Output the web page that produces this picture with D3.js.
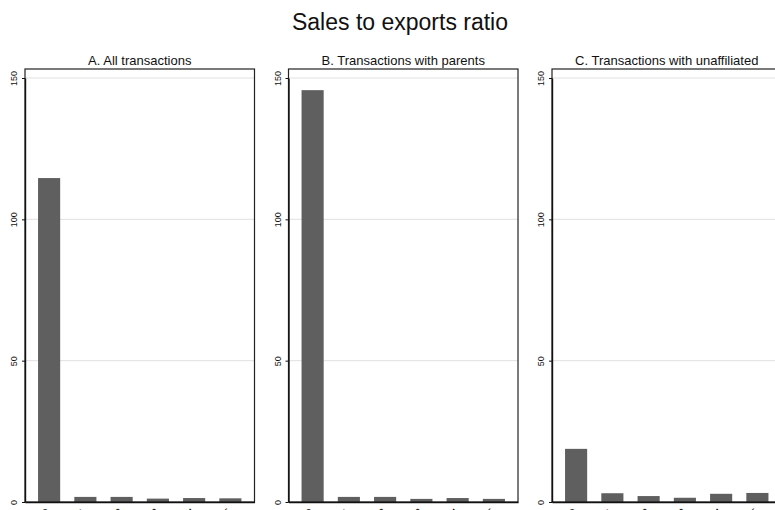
<!DOCTYPE html>
<html>
<head>
<meta charset="utf-8">
<script src="https://cdn.jsdelivr.net/npm/d3@7"></script>
<style>
  html, body { margin: 0; padding: 0; background: #fff; }
  svg { display: block; font-family: "Liberation Sans", Arial, Helvetica, sans-serif; }
</style>
</head>
<body>
<svg id="chart" width="775" height="510"></svg>
<script>
// Ratio categories on the x axis
const categories = ["0", "1", "2", "3", "4", "5"];

// Panel titles
const panelTitles = [
  "A. All transactions",
  "B. Transactions with parents",
  "C. Transactions with unaffiliated"
];

// Bar heights per panel
const allValues = [114.6, 1.8, 1.8, 1.2, 1.4, 1.3];
const parentValues = [145.7, 1.8, 1.8, 1.1, 1.4, 1.1];
const unaffiliatedValues = [18.8, 3.1, 2.1, 1.5, 2.9, 3.2];

// Y axis ticks
const yTicks = [0, 50, 100, 150];

const panels = [allValues, parentValues, unaffiliatedValues];

const svg = d3.select("#chart");

svg.append("text")
  .attr("x", 400)
  .attr("y", 30)
  .attr("text-anchor", "middle")
  .attr("font-size", 23)
  .attr("fill", "#111")
  .text("Sales to exports ratio");

const panelLeft = [25, 288.5, 552];
const panelWidth = 229.5;
const plotTop = 69, plotBottom = 502;

const y = d3.scaleLinear().domain([0, 150]).range([plotBottom, 78]);

panels.forEach((values, i) => {
  const x0 = panelLeft[i];
  const x = d3.scaleBand()
    .domain(categories)
    .range([x0, x0 + panelWidth])
    .paddingInner(0.39)
    .paddingOuter(0.36);

  const g = svg.append("g");

  // panel title
  g.append("text")
    .attr("x", x0 + panelWidth / 2)
    .attr("y", 65)
    .attr("text-anchor", "middle")
    .attr("font-size", 13)
    .attr("fill", "#111")
    .text(panelTitles[i]);

  // gridlines
  g.selectAll("line.grid")
    .data(yTicks.filter(t => t > 0))
    .join("line")
    .attr("class", "grid")
    .attr("x1", x0).attr("x2", x0 + panelWidth)
    .attr("y1", d => y(d)).attr("y2", d => y(d))
    .attr("stroke", "#e0e0e0")
    .attr("stroke-width", 1);

  // bars
  g.selectAll("rect.bar")
    .data(values)
    .join("rect")
    .attr("class", "bar")
    .attr("x", (d, j) => x(categories[j]))
    .attr("width", x.bandwidth())
    .attr("y", d => y(d))
    .attr("height", d => y(0) - y(d))
    .attr("fill", "#5f5f5f");

  // frame
  g.append("rect")
    .attr("x", x0).attr("y", plotTop)
    .attr("width", panelWidth).attr("height", plotBottom - plotTop)
    .attr("fill", "none")
    .attr("stroke", "#222")
    .attr("stroke-width", 1.2);

  // y axis
  const yAxis = d3.axisLeft(y).tickValues(yTicks).tickSize(3).tickSizeOuter(0).tickPadding(3);
  const ya = g.append("g").attr("transform", `translate(${x0},0)`).call(yAxis);
  ya.select(".domain").attr("stroke", "#111").attr("stroke-width", 1.4);
  ya.selectAll(".tick line").attr("stroke", "#111");
  ya.selectAll(".tick text")
    .attr("font-size", 9)
    .attr("fill", "#111")
    .attr("text-anchor", "middle")
    .attr("x", null).attr("dy", null)
    .attr("transform", "translate(-8,0) rotate(-90)");

  // x axis
  const xAxis = d3.axisBottom(x).tickSize(0).tickSizeOuter(0);
  const xa = g.append("g").attr("transform", `translate(0,${plotBottom})`).call(xAxis);
  xa.select(".domain").attr("stroke", "#111").attr("stroke-width", 1.4);
  xa.selectAll(".tick text")
    .attr("font-size", 10)
    .attr("fill", "#111")
    .attr("text-anchor", "middle")
    .attr("y", null).attr("dy", "0.35em")
    .attr("transform", "translate(-3,10) rotate(-45)");
});
</script>
</body>
</html>
